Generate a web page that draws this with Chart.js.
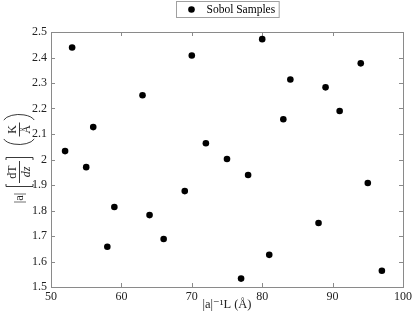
<!DOCTYPE html>
<html>
<head>
<meta charset="utf-8">
<script src="https://cdn.jsdelivr.net/npm/chart.js@4"></script>
<style>
  html, body { margin: 0; padding: 0; background: #fff; }
  #wrap { width: 415px; height: 320px; position: relative; }
</style>
</head>
<body>
<div id="wrap"><canvas id="chart"></canvas></div>
<script>
// ---- data ----
var seriesLabel = 'Sobol Samples';
var xVals = [52, 53, 55, 56, 58, 59, 63, 64, 66, 69, 70, 72, 75, 77, 78, 80, 81, 83, 84, 88, 89, 91, 94, 95, 97];
var yVals = [2.033, 2.439, 1.970, 2.127, 1.658, 1.814, 2.252, 1.782, 1.688, 1.876, 2.408, 2.064, 2.002,
             1.533, 1.939, 2.472, 1.626, 2.158, 2.314, 1.751, 2.283, 2.190, 2.377, 1.908, 1.564];
var xTicks = [50, 60, 70, 80, 90, 100];
var yTicks = [1.5, 1.6, 1.7, 1.8, 1.9, 2, 2.1, 2.2, 2.3, 2.4, 2.5];

var serif = "'Liberation Serif', 'DejaVu Serif', serif";
var frameColor = '#8a8a8a';

var points = xVals.map(function (x, i) { return { x: x, y: yVals[i] }; });

// ---- boxed frame with inward ticks on all four sides ----
var framePlugin = {
    id: 'frame',
    beforeDatasetsDraw: function (chart) {
        var ctx = chart.ctx, a = chart.chartArea;
        var xs = chart.scales.x, ys = chart.scales.y;
        var tl = 4;
        ctx.save();
        ctx.strokeStyle = frameColor;
        ctx.lineWidth = 1;
        ctx.strokeRect(Math.round(a.left) + 0.5, Math.round(a.top) + 0.5,
            Math.round(a.right - a.left), Math.round(a.bottom - a.top));
        ctx.beginPath();
        xTicks.forEach(function (v) {
            var px = Math.round(xs.getPixelForValue(v)) + 0.5;
            ctx.moveTo(px, a.bottom); ctx.lineTo(px, a.bottom - tl);
            ctx.moveTo(px, a.top); ctx.lineTo(px, a.top + tl);
        });
        yTicks.forEach(function (v) {
            var py = Math.round(ys.getPixelForValue(v)) + 0.5;
            ctx.moveTo(a.left, py); ctx.lineTo(a.left + tl, py);
            ctx.moveTo(a.right, py); ctx.lineTo(a.right - tl, py);
        });
        ctx.stroke();
        ctx.restore();
    }
};

// ---- legend box above the plot, centred on the plot area ----
var legendPlugin = {
    id: 'boxLegend',
    afterDraw: function (chart) {
        var ctx = chart.ctx, a = chart.chartArea;
        var label = chart.data.datasets[0].label;
        ctx.save();
        ctx.font = '11.5px ' + serif;
        var tw = ctx.measureText(label).width;
        var w = 30 + tw + 4, h = 16;
        var cx = (a.left + a.right) / 2;
        var left = Math.round(cx - w / 2) + 0.5, top = 1.5;
        ctx.fillStyle = '#fff';
        ctx.fillRect(left, top, w, h);
        ctx.strokeStyle = '#a0a0a0';
        ctx.lineWidth = 1;
        ctx.strokeRect(left, top, w, h);
        ctx.fillStyle = '#000';
        ctx.beginPath();
        ctx.arc(left + 15, top + h / 2, 3.3, 0, Math.PI * 2);
        ctx.fill();
        ctx.textBaseline = 'middle';
        ctx.textAlign = 'left';
        ctx.fillText(label, left + 30, top + h / 2 + 0.5);
        ctx.restore();
    }
};

// ---- y axis title: |a| [dT/dz] (K/Å), rotated ----
var yTitlePlugin = {
    id: 'yTitle',
    afterDraw: function (chart) {
        var ctx = chart.ctx, a = chart.chartArea;
        var cy = (a.top + a.bottom) / 2;
        ctx.save();
        ctx.translate(19, cy);
        ctx.rotate(-Math.PI / 2);
        ctx.fillStyle = '#222';
        ctx.strokeStyle = '#222';
        ctx.lineWidth = 0.9;
        ctx.textBaseline = 'middle';
        ctx.textAlign = 'center';

        ctx.font = '12.5px ' + serif;
        ctx.fillText('|a|', -38.5, 1);

        // square brackets
        ctx.beginPath();
        ctx.moveTo(-24.5, -13); ctx.lineTo(-27, -13); ctx.lineTo(-27, 14); ctx.lineTo(-24.5, 14);
        ctx.moveTo(-0.5, -13); ctx.lineTo(2, -13); ctx.lineTo(2, 14); ctx.lineTo(-0.5, 14);
        ctx.stroke();
        // fraction dT / dz
        ctx.font = '12px ' + serif;
        ctx.fillText('dT', -12.5, -6);
        ctx.font = 'italic 12px ' + serif;
        ctx.fillText('dz', -12.5, 7.5);
        ctx.beginPath();
        ctx.moveTo(-23.5, 0.5); ctx.lineTo(-1.5, 0.5);
        ctx.stroke();

        // parentheses
        ctx.beginPath();
        ctx.ellipse(23, 0, 8, 16, 0, Math.PI * 0.6, Math.PI * 1.4);
        ctx.stroke();
        ctx.beginPath();
        ctx.ellipse(37, 0, 8, 16, 0, -Math.PI * 0.4, Math.PI * 0.4);
        ctx.stroke();
        // fraction K / Å
        ctx.font = '12px ' + serif;
        ctx.fillText('K', 30, -6);
        ctx.fillText('Å', 30, 8);
        ctx.beginPath();
        ctx.moveTo(23, 0.5); ctx.lineTo(37, 0.5);
        ctx.stroke();
        ctx.restore();
    }
};

new Chart(document.getElementById('chart'), {
    type: 'scatter',
    data: {
        datasets: [{
            label: seriesLabel,
            data: points,
            backgroundColor: '#000',
            borderWidth: 0,
            pointRadius: 3.3,
            pointHoverRadius: 3.3
        }]
    },
    options: {
        responsive: true,
        maintainAspectRatio: false,
        animation: false,
        layout: { padding: { left: 0, right: 8, top: 32, bottom: 0 } },
        plugins: {
            legend: { display: false },
            tooltip: { enabled: false }
        },
        scales: {
            x: {
                type: 'linear',
                min: 50,
                max: 100,
                afterBuildTicks: function (scale) {
                    scale.ticks = xTicks.map(function (v) { return { value: v }; });
                },
                afterFit: function (scale) { scale.height = 33; },
                grid: { display: false, drawTicks: false },
                border: { display: false },
                ticks: {
                    color: '#222',
                    padding: 3,
                    maxRotation: 0,
                    font: { family: serif, size: 12 },
                    callback: function (v) { return String(v); }
                },
                title: {
                    display: true,
                    text: '|a|\u207B\u00B9L (\u00C5)',
                    color: '#222',
                    font: { family: serif, size: 12.5 },
                    padding: { top: 0, bottom: 8 }
                }
            },
            y: {
                type: 'linear',
                min: 1.5,
                max: 2.5,
                afterBuildTicks: function (scale) {
                    scale.ticks = yTicks.map(function (v) { return { value: v }; });
                },
                afterFit: function (scale) { scale.width = 51; },
                grid: { display: false, drawTicks: false },
                border: { display: false },
                ticks: {
                    color: '#222',
                    padding: 4,
                    font: { family: serif, size: 12 },
                    callback: function (v) { return String(Number(v.toFixed(1))); }
                }
            }
        }
    },
    plugins: [framePlugin, legendPlugin, yTitlePlugin]
});
</script>
</body>
</html>
